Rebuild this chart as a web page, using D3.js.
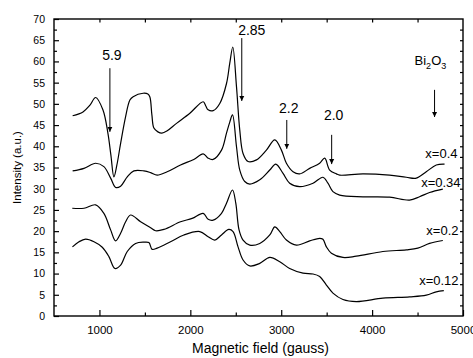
<!DOCTYPE html>
<html>
<head>
<meta charset="utf-8">
<script src="https://cdn.jsdelivr.net/npm/d3@7"></script>
<style>
  body { margin: 0; background: #fff; }
  svg text { font-family: Arial, "Liberation Sans", sans-serif; fill: #000; }
</style>
</head>
<body>
<div id="chart"></div>
<script>
// EPR spectra, [field (gauss), intensity (a.u.)]
const specX040 = [[705,47.2],[819,48.1],[896,49.7],[958,51.5],[1038,48.6],[1093,43.1],[1126,37.9],[1159,32.8],[1192,35.6],[1233,40.7],[1288,47.0],[1335,50.9],[1371,51.7],[1481,52.5],[1533,52.3],[1555,51.6],[1577,47.4],[1599,44.3],[1643,43.4],[1687,43.1],[1742,43.6],[1848,45.4],[1995,47.8],[2141,50.5],[2170,49.5],[2196,48.6],[2251,48.4],[2324,50.1],[2398,54.8],[2434,59.6],[2467,63.4],[2508,54.0],[2544,43.8],[2580,38.3],[2635,36.4],[2728,36.8],[2837,39.1],[2929,41.5],[3002,39.1],[3057,36.0],[3130,34.0],[3203,33.5],[3313,34.8],[3423,36.0],[3478,37.2],[3533,34.4],[3607,33.5],[3643,33.2],[3899,33.5],[4192,33.2],[4376,32.7],[4486,32.5],[4596,34.0],[4706,35.6],[4797,35.8]];
const specX034 = [[705,34.2],[830,34.8],[958,36.0],[1049,35.2],[1123,32.5],[1178,30.3],[1233,30.6],[1306,32.8],[1379,34.2],[1489,34.2],[1563,33.8],[1635,33.2],[1745,34.0],[1892,35.6],[2038,36.9],[2141,38.2],[2196,37.2],[2251,36.9],[2343,39.1],[2398,43.1],[2434,45.7],[2464,47.4],[2508,39.9],[2544,34.4],[2599,31.7],[2654,31.1],[2764,32.1],[2874,34.4],[2940,35.8],[3020,33.6],[3093,31.3],[3203,30.5],[3350,31.3],[3459,32.7],[3514,31.3],[3569,29.3],[3643,28.5],[3899,28.1],[4192,28.0],[4412,27.3],[4522,28.1],[4632,29.1],[4778,29.9]];
const specX020 = [[701,25.4],[830,25.4],[958,26.2],[1049,24.2],[1123,20.3],[1178,17.7],[1233,19.5],[1288,22.2],[1343,23.8],[1453,22.2],[1563,20.8],[1618,20.1],[1709,20.4],[1892,22.2],[2020,23.0],[2141,24.2],[2196,22.8],[2251,22.6],[2343,24.2],[2398,26.6],[2464,29.7],[2500,26.6],[2536,20.3],[2580,17.9],[2654,16.7],[2764,17.1],[2874,19.1],[2929,21.0],[2984,19.9],[3057,17.9],[3167,16.7],[3313,17.7],[3423,18.3],[3459,18.1],[3497,16.3],[3552,14.8],[3679,13.8],[3826,14.1],[4119,15.2],[4376,15.6],[4503,16.0],[4632,17.1],[4778,17.8]];
const specX012 = [[703,16.3],[775,17.5],[848,18.1],[940,17.5],[1031,16.2],[1104,14.0],[1170,11.2],[1233,12.0],[1306,15.2],[1398,17.1],[1489,17.4],[1544,17.3],[1580,15.7],[1635,16.0],[1782,17.5],[1929,19.1],[2104,19.9],[2196,18.7],[2269,17.9],[2343,19.1],[2423,20.4],[2470,19.9],[2525,16.3],[2580,13.2],[2654,11.8],[2764,12.4],[2874,13.8],[2984,12.8],[3093,11.2],[3240,10.1],[3350,9.9],[3423,9.3],[3497,7.3],[3569,5.4],[3679,3.9],[3826,3.4],[4119,4.2],[4412,4.5],[4596,4.9],[4706,5.7],[4789,6.0]];

const seriesList = [specX040, specX034, specX020, specX012];

// curve labels: [text, field at right end, intensity at baseline]
const curveLabels = [["x=0.4", 4940, 37.2], ["x=0.34", 4973, 30.4], ["x=0.2", 4951, 19.1], ["x=0.12", 4951, 7.3]];

// g-value arrows: [label, field, label baseline, arrow top, arrow tip]
const gArrows = [["5.9", 1115, 60.3, 58.4, 43.4], ["2.85", 2566, 66.2, 65.5, 50.7], ["2.2", 3061, 47.8, 46.2, 39.4], ["2.0", 3555, 46.2, 42.7, 35.8]];
const bi2o3Arrow = [4687, 53.3, 46.9];

const xTicks = [1000, 2000, 3000, 4000, 5000];
const yTicks = [0, 5, 10, 15, 20, 25, 30, 35, 40, 45, 50, 55, 60, 65, 70];

const width = 473, height = 358;
const margin = {top: 19, left: 54, right: 10, bottom: 42};

const svg = d3.select("#chart").append("svg")
    .attr("width", width)
    .attr("height", height);

const xScale = d3.scaleLinear().domain([500, 5000]).range([margin.left, width - margin.right]);
const yScale = d3.scaleLinear().domain([0, 70]).range([height - margin.bottom, margin.top]);

const x0 = xScale.range()[0], x1 = xScale.range()[1];
const y0 = yScale.range()[0], y1 = yScale.range()[1];

// ticks point inward on all four sides
const bottomAxis = svg.append("g")
    .attr("transform", `translate(0,${y0})`)
    .call(d3.axisBottom(xScale).tickValues(xTicks).tickSizeInner(-6).tickSizeOuter(0).tickPadding(10).tickFormat(d3.format("d")));
const bottomMinor = svg.append("g")
    .attr("transform", `translate(0,${y0})`)
    .call(d3.axisBottom(xScale).tickValues(d3.range(1500, 5000, 1000)).tickSize(-3.5).tickFormat(""));
const topAxis = svg.append("g")
    .attr("transform", `translate(0,${y1})`)
    .call(d3.axisTop(xScale).tickValues(d3.range(1000, 5000, 500)).tickSize(-3.5).tickFormat(""));
const leftAxis = svg.append("g")
    .attr("transform", `translate(${x0},0)`)
    .call(d3.axisLeft(yScale).tickValues(yTicks).tickSizeInner(-5).tickSizeOuter(0).tickPadding(9));
const leftMinor = svg.append("g")
    .attr("transform", `translate(${x0},0)`)
    .call(d3.axisLeft(yScale).tickValues(d3.range(2.5, 70, 5)).tickSize(-3).tickFormat(""));
const rightAxis = svg.append("g")
    .attr("transform", `translate(${x1},0)`)
    .call(d3.axisRight(yScale).tickValues(d3.range(2.5, 70, 2.5)).tickSize(-3).tickFormat(""));

svg.selectAll(".domain").remove();
svg.selectAll(".tick line").attr("stroke", "#000").attr("stroke-width", 1.2);
bottomAxis.selectAll("text").attr("font-size", "11.5px");
leftAxis.selectAll("text").attr("font-size", "10.5px");

svg.append("rect")
    .attr("x", x0).attr("y", y1)
    .attr("width", x1 - x0).attr("height", y0 - y1)
    .attr("fill", "none").attr("stroke", "#000").attr("stroke-width", 1.4);

// axis titles
svg.append("text")
    .attr("x", (x0 + x1) / 2 + 2).attr("y", 353)
    .attr("text-anchor", "middle").attr("font-size", "14px")
    .text("Magnetic field (gauss)");
svg.append("text")
    .attr("transform", `translate(21,${(y0 + y1) / 2}) rotate(-90)`)
    .attr("text-anchor", "middle").attr("font-size", "11.5px")
    .text("Intensity (a.u.)");

// spectra
const line = d3.line()
    .x(function(d) { return xScale(d[0]); })
    .y(function(d) { return yScale(d[1]); })
    .curve(d3.curveCatmullRom.alpha(0.5));

svg.selectAll(".spec")
    .data(seriesList)
    .enter()
    .append("path")
        .attr("class", "spec")
        .attr("d", line)
        .attr("fill", "none")
        .attr("stroke", "#000")
        .attr("stroke-width", 1.2);

svg.selectAll(".clabel")
    .data(curveLabels)
    .enter()
    .append("text")
        .attr("class", "clabel")
        .attr("x", function(d) { return xScale(d[1]); })
        .attr("y", function(d) { return yScale(d[2]); })
        .attr("text-anchor", "end")
        .attr("font-size", "13px")
        .text(function(d) { return d[0]; });

// arrows
svg.append("defs").append("marker")
    .attr("id", "head")
    .attr("viewBox", "0 0 10 10")
    .attr("refX", 10).attr("refY", 5)
    .attr("markerWidth", 5).attr("markerHeight", 6)
    .attr("markerUnits", "userSpaceOnUse")
    .attr("orient", "auto")
    .append("path")
        .attr("d", "M0,0 L10,5 L0,10 Z")
        .attr("fill", "#000");

svg.selectAll(".garrow")
    .data(gArrows)
    .enter()
    .append("line")
        .attr("class", "garrow")
        .attr("x1", function(d) { return xScale(d[1]); })
        .attr("x2", function(d) { return xScale(d[1]); })
        .attr("y1", function(d) { return yScale(d[3]); })
        .attr("y2", function(d) { return yScale(d[4]); })
        .attr("stroke", "#000")
        .attr("stroke-width", 1)
        .attr("marker-end", "url(#head)");

svg.selectAll(".glabel")
    .data(gArrows)
    .enter()
    .append("text")
        .attr("class", "glabel")
        .attr("x", function(d) { return xScale(d[1]) + (d[0] === "2.85" ? 10 : 2); })
        .attr("y", function(d) { return yScale(d[2]); })
        .attr("text-anchor", "middle")
        .attr("font-size", "14px")
        .text(function(d) { return d[0]; });

svg.append("line")
    .attr("x1", xScale(bi2o3Arrow[0])).attr("x2", xScale(bi2o3Arrow[0]))
    .attr("y1", yScale(bi2o3Arrow[1])).attr("y2", yScale(bi2o3Arrow[2]))
    .attr("stroke", "#000").attr("stroke-width", 1)
    .attr("marker-end", "url(#head)");

const bi = svg.append("text")
    .attr("x", xScale(4467)).attr("y", yScale(59.2))
    .attr("font-size", "13px");
bi.append("tspan").text("Bi");
bi.append("tspan").attr("dy", 4).attr("font-size", "9px").text("2");
bi.append("tspan").attr("dy", -4).text("O");
bi.append("tspan").attr("dy", 4).attr("font-size", "9px").text("3");
</script>
</body>
</html>
